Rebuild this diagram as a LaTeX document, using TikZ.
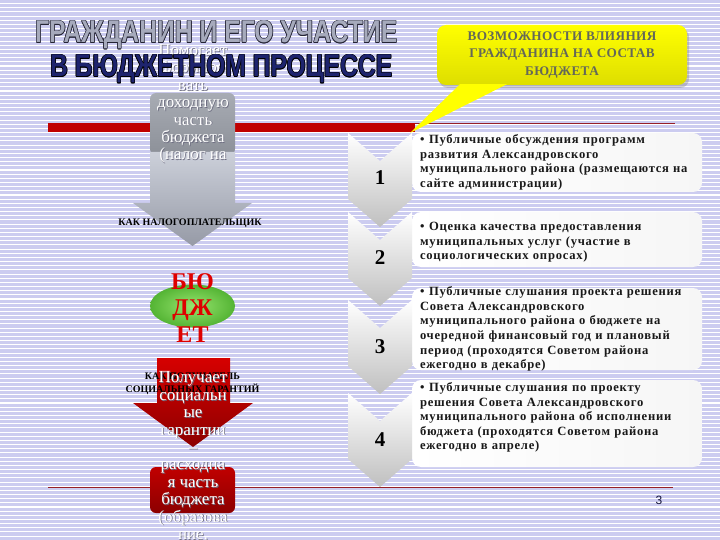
\documentclass[tikz,border=0pt]{standalone}
\usepackage{fontspec}
\setmainfont{Liberation Serif}
\newfontfamily\headfont{Liberation Sans}
\newfontfamily\infofont[LetterSpace=6]{Liberation Serif}
\newfontfamily\callfont[LetterSpace=3]{Liberation Serif}
\usetikzlibrary{positioning,shapes.geometric,shadows,calc}

\definecolor{stripe}{RGB}{204,204,240}
\definecolor{barred}{RGB}{192,0,0}
\definecolor{thinred}{RGB}{150,30,40}
\definecolor{titlefill}{RGB}{166,170,188}
\definecolor{titlenavy}{RGB}{30,36,110}
\definecolor{titleedge}{RGB}{36,36,52}
\definecolor{callyellow}{RGB}{255,255,0}
\definecolor{calldark}{RGB}{222,222,0}
\definecolor{calltext}{RGB}{100,104,88}
\definecolor{arrowlight}{RGB}{204,208,218}
\definecolor{arrowdark}{RGB}{150,154,166}
\definecolor{boxgray}{RGB}{168,172,180}
\definecolor{boxgraydark}{RGB}{140,144,152}
\definecolor{redtop}{RGB}{214,0,0}
\definecolor{redbottom}{RGB}{140,0,0}
\definecolor{bjred}{RGB}{222,0,0}
\definecolor{greenin}{RGB}{150,228,110}
\definecolor{greenout}{RGB}{84,180,52}
\definecolor{shadowtext}{RGB}{110,110,130}
\definecolor{pagenum}{RGB}{20,20,60}

\tikzset{
  headline/.style={anchor=base west, inner sep=0pt, font=\headfont\bfseries},
  infobox/.style={rounded corners=9pt, left color=white, right color=white!93!gray,
    minimum width=290pt, inner sep=0pt},
  infotext/.style={anchor=west, inner sep=0pt, text width=286pt, align=left,
    font=\infofont\fontsize{12.6}{14.6}\selectfont\bfseries, text=black!90},
  chevron/.style={top color=white, bottom color=gray!50},
  chevnum/.style={font=\fontsize{21}{21}\selectfont\bfseries},
  overflow/.style={inner sep=0pt, align=center, text=white,
    font=\fontsize{17}{17.4}\selectfont},
  overshade/.style={overflow, text=shadowtext, xshift=0.8pt, yshift=-0.8pt},
  rolelabel/.style={inner sep=0pt, align=center, font=\fontsize{10}{12.5}\selectfont\bfseries},
  callbox/.style={rounded corners=9pt, top color=callyellow, bottom color=calldark,
    minimum width=250pt, minimum height=60pt, align=center, text=calltext,
    font=\callfont\fontsize{13.2}{17.5}\selectfont\bfseries,
    drop shadow={shadow xshift=2pt, shadow yshift=-3pt, opacity=0.35}}
}

\newcommand{\itembullet}{\hangindent=9pt\hangafter=1\makebox[9pt][l]{\textbullet}}

\begin{document}
\begin{tikzpicture}[x=1pt,y=-1pt]
\useasboundingbox (0,0) rectangle (720,540);
\fill[white] (0,0) rectangle (720,540);
% background stripes
\foreach \i in {0,...,130}
  \fill[stripe] (0,\i*4.16) rectangle (720,\i*4.16+3.1);

% red lines
\fill[barred] (48,123) rectangle (415,132);
\draw[thinred, line width=1.2pt] (415,123.5) -- (675,123.5);
\draw[thinred, line width=1pt] (48,487) -- (673,487);

% right hand list
\node[infobox, minimum height=59pt] (box1) at (557,162.5) {};
\node[infobox, minimum height=55pt] (box2) at (557,239.5) {};
\node[infobox, minimum height=82pt] (box3) at (557,329) {};
\node[infobox, minimum height=87pt] (box4) at (557,423.5) {};

\node[infotext, right=8pt of box1.west] (item1) {\itembullet Публичные обсуждения программ\\
  развития Александровского\\
  муниципального района (размещаются на\\
  сайте администрации)};
\node[infotext, right=8pt of box2.west, yshift=-3pt] (item2) {\itembullet Оценка качества предоставления\\
  муниципальных услуг (участие в\\
  социологических опросах)};
\node[infotext, right=8pt of box3.west] (item3) {\itembullet Публичные слушания проекта решения\\
  Совета Александровского\\
  муниципального района о бюджете на\\
  очередной финансовый год и плановый\\
  период (проходятся Советом района\\
  ежегодно в декабре)};
\node[infotext, right=8pt of box4.west, yshift=6pt] (item4) {\itembullet Публичные слушания по проекту\\
  решения Совета Александровского\\
  муниципального района об исполнении\\
  бюджета (проходятся Советом района\\
  ежегодно в апреле)};

% callout
\node[callbox] (callout) at (562,55) {ВОЗМОЖНОСТИ ВЛИЯНИЯ\\ГРАЖДАНИНА НА СОСТАВ\\БЮДЖЕТА};
\coordinate (tip) at (410,133);
\fill[callyellow] ([xshift=-102pt,yshift=1pt]callout.south) -- (tip) -- ([xshift=-55pt,yshift=1pt]callout.south) -- cycle;

% chevrons
\foreach \n/\t/\c in {1/133/178, 2/212/258, 3/300/347, 4/393/440}{
  \shade[chevron] (348,\t) -- (380,\t+28) -- (412,\t) -- (412,\t+66) -- (380,\t+94) -- (348,\t+66) -- cycle;
  \node[chevnum] (num\n) at (380,\c) {\n};
}

% taxpayer side
\shade[top color=boxgray, bottom color=boxgraydark, rounded corners=6pt]
  (150,93) rectangle (235,155);
\shade[top color=arrowlight, bottom color=arrowdark]
  (150,152) -- (235,152) -- (235,203) -- (252,203) -- (192.5,246) -- (133,203) -- (150,203) -- cycle;
\node[rolelabel] (taxpayer) at (190,223) {КАК НАЛОГОПЛАТЕЛЬЩИК};

% budget
\node[ellipse, inner color=greenin, outer color=greenout, minimum width=85pt, minimum height=43pt] (budget) at (192.5,306) {};
\node[align=center, text=bjred, font=\fontsize{24}{26.5}\selectfont\bfseries] (budgetword) at (192.5,308) {БЮ\\ДЖ\\ЕТ};

% recipient side
\shade[top color=redtop, bottom color=redbottom]
  (157,358) -- (230,358) -- (230,403) -- (253,403) -- (193,447) -- (133,403) -- (157,403) -- cycle;
\node[rolelabel] (recipient) at (192.5,384) {КАК ПОЛУЧАТЕЛЬ\\СОЦИАЛЬНЫХ ГАРАНТИЙ};
\shade[top color=redtop!90!black, bottom color=redbottom, rounded corners=6pt]
  (150,467) rectangle (235,513);

% overflowing texts
\node[overshade] (taxshade) at (193,104) {Помогает\\формиро\\вать\\доходную\\часть\\бюджета\\(налог на};
\node[overflow] (taxtext) at (193,104) {Помогает\\формиро\\вать\\доходную\\часть\\бюджета\\(налог на};
\node[overshade] (spendshade) at (193,457) {Получает\\социальн\\ые\\гарантии\\–\\расходна\\я часть\\бюджета\\(образова\\ние,};
\node[overflow] (spendtext) at (193,457) {Получает\\социальн\\ые\\гарантии\\–\\расходна\\я часть\\бюджета\\(образова\\ние,};

% title
\foreach \dx/\dy [count=\k] in {-0.6/0,0.6/0,0/-0.6,0/0.6,-0.45/-0.45,0.45/0.45,-0.45/0.45,0.45/-0.45}{
  \node[headline, text=titleedge, xshift=\dx pt, yshift=\dy pt] (edgeone\k) at (35,43) {\resizebox{362pt}{22pt}{ГРАЖДАНИН И ЕГО УЧАСТИЕ}};
  \node[headline, text=black, xshift=\dx pt, yshift=\dy pt] (edgetwo\k) at (50,77) {\resizebox{342pt}{22pt}{В БЮДЖЕТНОМ ПРОЦЕССЕ}};
}
\node[headline, text=titlefill] (titleone) at (35,43) {\resizebox{362pt}{22pt}{ГРАЖДАНИН И ЕГО УЧАСТИЕ}};
\node[headline, text=titlenavy] (titletwo) at (50,77) {\resizebox{342pt}{22pt}{В БЮДЖЕТНОМ ПРОЦЕССЕ}};

\node[text=pagenum, font=\headfont\fontsize{12}{12}\selectfont] (page) at (659,500) {3};
\end{tikzpicture}
\end{document}
